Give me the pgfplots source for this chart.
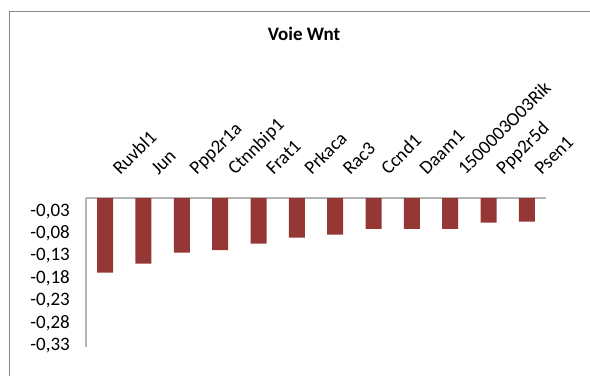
\documentclass[border=0pt]{standalone}
\usepackage{pgfplots}
\pgfplotsset{compat=1.18}
\usepackage{fontspec}
\setmainfont{Carlito}
\definecolor{barred}{RGB}{149,55,53}
\definecolor{axgray}{RGB}{180,180,180}
\definecolor{framegray}{RGB}{134,134,134}
\begin{document}
\fontsize{19}{22}\selectfont
\begin{tikzpicture}[x=1pt,y=1pt]
\useasboundingbox (0,0) rectangle (590,-376);
% chart frame (only top and left edges visible)
\draw[framegray, line width=1.3pt] (9.5,-376) -- (9.5,-11.5) -- (590,-11.5);
\node[font=\bfseries, anchor=base] at (304,-40) {Voie Wnt};
\begin{axis}[
    at={(86pt,-198pt)}, anchor=north west,
    scale only axis, width=460pt, height=149pt,
    xmin=-0.5, xmax=11.5, ymin=-0.334, ymax=0,
    axis x line=top, axis y line=left,
    axis line style={-, axgray, line width=1.3pt},
    major tick length=0pt,
    xtick={0,...,11},
    xticklabels={Ruvbl1,Jun,Ppp2r1a,Ctnnbip1,Frat1,Prkaca,Rac3,Ccnd1,Daam1,1500003O03Rik,Ppp2r5d,Psen1},
    x tick label style={inner sep=0pt, xshift=15pt, yshift=22pt, rotate=45, anchor=base west},
    ytick={-0.03,-0.08,-0.13,-0.18,-0.23,-0.28,-0.33},
    yticklabels={{-0,03},{-0,08},{-0,13},{-0,18},{-0,23},{-0,28},{-0,33}},
    y tick label style={inner sep=0pt, anchor=east, xshift=-16pt},
    ybar, bar width=16pt,
]
\addplot[fill=barred, draw=none] coordinates {
    (0,-0.1675) (1,-0.147) (2,-0.1226) (3,-0.1166) (4,-0.1024) (5,-0.089)
    (6,-0.082) (7,-0.069) (8,-0.069) (9,-0.069) (10,-0.055) (11,-0.053)
};
\end{axis}
\end{tikzpicture}
\end{document}
